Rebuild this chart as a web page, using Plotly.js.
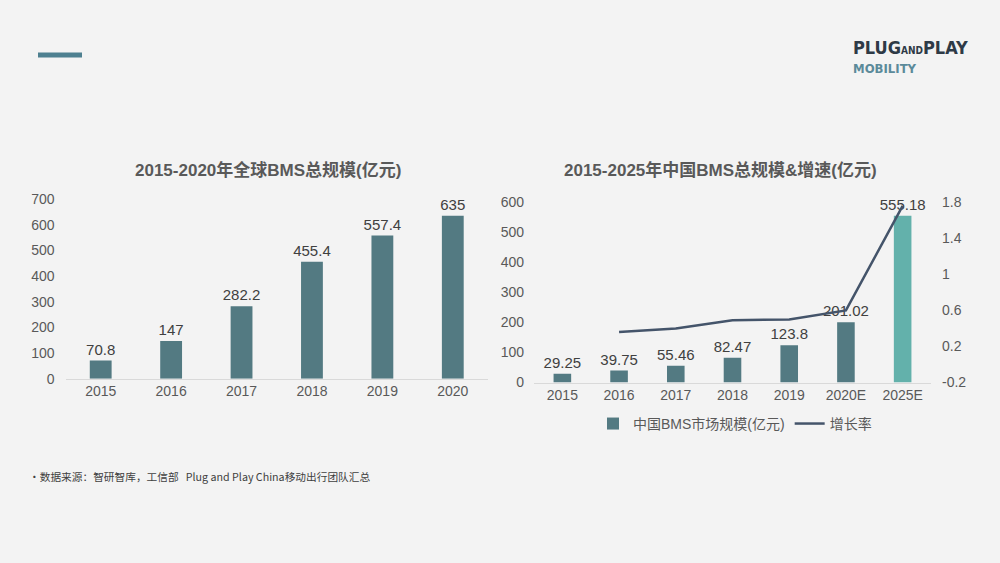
<!DOCTYPE html>
<html><head><meta charset="utf-8">
<script src="https://cdn.plot.ly/plotly-3.0.1.min.js"></script>
<style>html,body{margin:0;padding:0;background:#F3F3F3;}#chart{width:1000px;height:563px;}</style>
</head><body><div id="chart"></div>
<script>
const globalYears = ["2015","2016","2017","2018","2019","2020"];
const globalValues = [70.8, 147, 282.2, 455.4, 557.4, 635];
const chinaYears = ["2015","2016","2017","2018","2019","2020E","2025E"];
const chinaValues = [29.25, 39.75, 55.46, 82.47, 123.8, 201.02, 555.18];
const chinaGrowth = [null, 0.36, 0.40, 0.49, 0.50, 0.60, 1.76];
const leftTitle = "2015-2020年全球BMS总规模(亿元)";
const rightTitle = "2015-2025年中国BMS总规模&增速(亿元)";
const barName = "中国BMS市场规模(亿元)";
const lineName = "增长率";
const sourceNote = "•数据来源：智研智库，工信部   Plug and Play China移动出行团队汇总";

const FONT = "'Liberation Sans', Arial, 'Noto Sans CJK SC', sans-serif";
const LOGO = "'Liberation Sans Narrow', 'DejaVu Sans Condensed', sans-serif";
const dark = "#404040", grey = "#595959", teal = "#537A82", light = "#63B1AB";

const traces = [
  {type:"bar", x:globalYears, y:globalValues, xaxis:"x", yaxis:"y",
   marker:{color:teal}, width:0.31, showlegend:false,
   text:globalValues.map(String), textposition:"outside", cliponaxis:false, constraintext:"none",
   textfont:{size:15, color:dark, family:FONT}, hoverinfo:"x+y"},
  {type:"bar", x:chinaYears, y:chinaValues, xaxis:"x2", yaxis:"y2", name:barName,
   marker:{color:chinaValues.map((v,i)=> i===chinaValues.length-1 ? light : teal)}, width:0.31,
   text:chinaValues.map(String), textposition:"outside", cliponaxis:false, constraintext:"none",
   textfont:{size:15, color:dark, family:FONT}},
  {type:"scatter", mode:"lines", x:chinaYears, y:chinaGrowth, xaxis:"x2", yaxis:"y3", name:lineName,
   line:{color:"#44546A", width:2.5}, connectgaps:false, cliponaxis:false}
];

const tickFont = {size:14, color:grey, family:FONT};
const layout = {
  width:1000, height:563, margin:{l:0,r:0,t:0,b:0},
  paper_bgcolor:"#F3F3F3", plot_bgcolor:"rgba(0,0,0,0)",
  font:{family:FONT, color:grey},
  xaxis:{type:"category", domain:[0.0655,0.488], anchor:"y", showline:true, linecolor:"#D9D9D9", linewidth:1,
    ticks:"", tickfont:tickFont, showgrid:false},
  yaxis:{domain:[0.3274,0.6465], anchor:"x", range:[0,700], dtick:100, showgrid:false, zeroline:false,
    showline:false, tickfont:tickFont, ticklabelstandoff:10},
  xaxis2:{type:"category", domain:[0.534,0.931], anchor:"y2", showline:true, linecolor:"#D9D9D9", linewidth:1,
    ticks:"", tickfont:tickFont, showgrid:false},
  yaxis2:{domain:[0.3206,0.6407], anchor:"x2", range:[0,600], dtick:100, showgrid:false, zeroline:false,
    showline:false, tickfont:tickFont, ticklabelstandoff:9},
  yaxis3:{overlaying:"y2", side:"right", anchor:"x2", range:[-0.2,1.8], tickvals:[-0.2,0.2,0.6,1,1.4,1.8],
    ticktext:["-0.2","0.2","0.6","1","1.4","1.8"], showgrid:false, zeroline:false, showline:false,
    tickfont:tickFont, ticklabelstandoff:10},
  legend:{orientation:"h", x:0.735, xanchor:"center", y:0.247, yanchor:"middle",
    font:{size:14, color:grey, family:FONT}, bgcolor:"rgba(0,0,0,0)", traceorder:"normal"},
  shapes:[
    {type:"line", xref:"paper", yref:"paper", x0:0.038, x1:0.082, y0:1-55/563, y1:1-55/563,
     line:{color:"#4E8090", width:5}}
  ],
  annotations:[
    {text:leftTitle, xref:"paper", yref:"paper", x:0.268, y:1-170/563, showarrow:false,
     xanchor:"center", yanchor:"middle", font:{size:17, color:grey, family:FONT, weight:"bold"}},
    {text:rightTitle, xref:"paper", yref:"paper", x:0.720, y:1-170/563, showarrow:false,
     xanchor:"center", yanchor:"middle", font:{size:17, color:grey, family:FONT, weight:"bold"}},
    {text:sourceNote, xref:"paper", yref:"paper", x:0.027, y:1-476/563, showarrow:false,
     xanchor:"left", yanchor:"middle", font:{size:10.7, color:dark, family:"'Noto Sans CJK SC', sans-serif"}},
    {text:"PLUG<span style='font-size:10px'>AND</span>PLAY", xref:"paper", yref:"paper", x:0.851, y:1-47/563, showarrow:false,
     xanchor:"left", yanchor:"middle", font:{size:18, color:"#2E3A46", family:LOGO, weight:"bold"}},
    {text:"MOBILITY", xref:"paper", yref:"paper", x:0.851, y:1-68/563, showarrow:false,
     xanchor:"left", yanchor:"middle", font:{size:13, color:"#5B8A9A", family:LOGO, weight:"bold"}}
  ]
};
Plotly.newPlot("chart", traces, layout, {displayModeBar:false, staticPlot:true});
</script></body></html>
